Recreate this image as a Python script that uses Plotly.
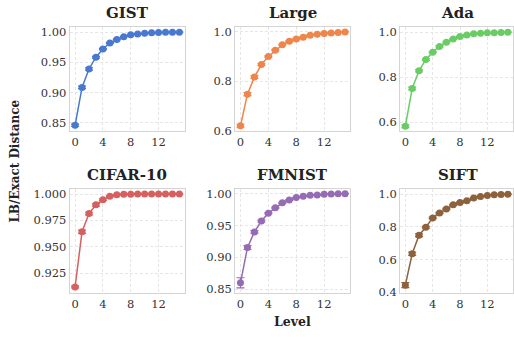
import plotly.graph_objects as go

levels = list(range(16))
titles = ["GIST", "Large", "Ada", "CIFAR-10", "FMNIST", "SIFT"]
colors = ["#4878d0", "#ee854a", "#6acc64", "#d65f5f", "#956cb4", "#8c613c"]

gist = [0.8457, 0.9085, 0.939, 0.9585, 0.972, 0.982, 0.988, 0.9925, 0.9955, 0.997, 0.998, 0.9988, 0.9993, 0.9997, 0.9999, 1.0]
large = [0.620, 0.748, 0.817, 0.868, 0.900, 0.926, 0.948, 0.962, 0.971, 0.979, 0.987, 0.991, 0.994, 0.996, 0.998, 1.0]
ada = [0.583, 0.750, 0.829, 0.879, 0.911, 0.937, 0.955, 0.970, 0.981, 0.988, 0.993, 0.995, 0.997, 0.998, 0.999, 1.0]
cifar = [0.9118, 0.9642, 0.9815, 0.9898, 0.9947, 0.9978, 0.9994, 0.9997, 0.9999, 1.0, 1.0, 1.0, 1.0, 1.0, 1.0, 1.0]
fmnist = [0.860, 0.9153, 0.940, 0.957, 0.9694, 0.978, 0.9857, 0.990, 0.994, 0.996, 0.9975, 0.998, 0.999, 0.9995, 1.0, 1.0]
sift = [0.444, 0.636, 0.749, 0.798, 0.855, 0.885, 0.909, 0.935, 0.949, 0.960, 0.976, 0.986, 0.992, 0.996, 0.998, 1.0]

gist_err = [0.002, 0.002, 0.002, 0.0015, 0.001, 0.001, 0.0008, 0.0005, 0.0004, 0.0003, 0.0002, 0.0001, 0.0001, 0, 0, 0]
large_err = [0.006, 0.006, 0.005, 0.004, 0.003, 0.003, 0.002, 0.002, 0.002, 0.001, 0.001, 0.001, 0.001, 0.0005, 0.0005, 0]
ada_err = [0.006, 0.006, 0.005, 0.004, 0.003, 0.003, 0.002, 0.002, 0.002, 0.001, 0.001, 0.001, 0.001, 0.0005, 0.0005, 0]
cifar_err = [0.001, 0.0015, 0.0012, 0.0012, 0.0008, 0.0005, 0.0003, 0.0002, 0.0001, 0, 0, 0, 0, 0, 0, 0]
fmnist_err = [0.008, 0.003, 0.002, 0.0015, 0.001, 0.001, 0.0008, 0.0005, 0.0004, 0.0003, 0.0002, 0.0001, 0.0001, 0, 0, 0]
sift_err = [0.015, 0.01, 0.008, 0.006, 0.005, 0.004, 0.004, 0.003, 0.003, 0.002, 0.002, 0.002, 0.001, 0.001, 0.001, 0]

series = [gist, large, ada, cifar, fmnist, sift]
errors = [gist_err, large_err, ada_err, cifar_err, fmnist_err, sift_err]

yticks = [
    [0.85, 0.90, 0.95, 1.00],
    [0.6, 0.8, 1.0],
    [0.6, 0.8, 1.0],
    [0.925, 0.950, 0.975, 1.000],
    [0.85, 0.90, 0.95, 1.00],
    [0.4, 0.6, 0.8, 1.0],
]
ytick_text = [
    ["0.85", "0.90", "0.95", "1.00"],
    ["0.6", "0.8", "1.0"],
    ["0.6", "0.8", "1.0"],
    ["0.925", "0.950", "0.975", "1.000"],
    ["0.85", "0.90", "0.95", "1.00"],
    ["0.4", "0.6", "0.8", "1.0"],
]
yranges = [
    [0.836, 1.0085],
    [0.598, 1.020],
    [0.561, 1.023],
    [0.906, 1.0052],
    [0.844, 1.008],
    [0.396, 1.034],
]
xticks = [0, 4, 8, 12]

W, H = 514, 337
xdom_px = [(70, 185), (235.7, 351), (401, 514)]
ydom_px = [(25.7, 132.7), (191.7, 299)]

FONT = "DejaVu Serif"
fig = go.Figure()
annotations = []
for i in range(6):
    r, c = divmod(i, 3)
    ax = "" if i == 0 else str(i + 1)
    fig.add_trace(go.Scatter(
        x=levels, y=series[i], mode="lines+markers",
        line=dict(color=colors[i], width=1.5),
        marker=dict(color=colors[i], size=7, symbol="circle"),
        error_y=dict(type="data", array=errors[i], color=colors[i], thickness=1.2, width=4),
        xaxis="x" + ax, yaxis="y" + ax, showlegend=False, cliponaxis=False,
    ))
    x0, x1 = xdom_px[c]
    y0, y1 = ydom_px[r]
    common = dict(
        showgrid=True, gridcolor="#e6e6e6", griddash="3px,2px", gridwidth=0.8,
        showline=True, linecolor="#d4d4d4", linewidth=1.3, mirror=True,
        zeroline=False, ticks="", tickfont=dict(family=FONT, size=11.5, color="#333"),
    )
    fig.update_layout(**{
        "xaxis" + ax: dict(domain=[x0 / W, min(x1 / W, 1)], range=[-0.75, 15.75],
                           tickvals=xticks, anchor="y" + ax, **common),
        "yaxis" + ax: dict(domain=[1 - y1 / H, 1 - y0 / H], range=yranges[i],
                           tickvals=yticks[i], ticktext=ytick_text[i], anchor="x" + ax, **common),
    })
    annotations.append(dict(
        text="<b>" + titles[i] + "</b>", x=(x0 + (x1 if c < 2 else 516)) / 2 / W,
        y=1 - y0 / H + 3 / H, xref="paper", yref="paper", xanchor="center", yanchor="bottom",
        showarrow=False, font=dict(family=FONT, size=15, color="#222"),
    ))

annotations.append(dict(
    text="<b>LB/Exact Distance</b>", x=15 / W, y=1 - 163 / H, xref="paper", yref="paper",
    textangle=-90, showarrow=False, xanchor="center", yanchor="middle",
    font=dict(family=FONT, size=12, color="#222"),
))
annotations.append(dict(
    text="<b>Level</b>", x=293 / W, y=1 - 328 / H, xref="paper", yref="paper",
    showarrow=False, xanchor="center", yanchor="middle",
    font=dict(family=FONT, size=12.5, color="#222"),
))

fig.update_layout(
    width=W, height=H, margin=dict(l=0, r=0, t=0, b=0),
    paper_bgcolor="white", plot_bgcolor="white",
    annotations=annotations,
)
fig.write_html("out.html", config={"displayModeBar": False},
               post_script="document.body.style.margin='0px';document.body.style.overflow='hidden';")
